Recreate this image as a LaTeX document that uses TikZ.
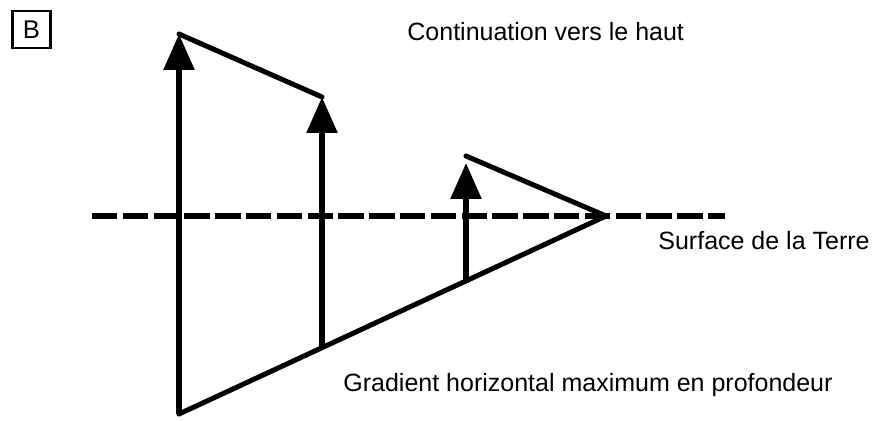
\documentclass[tikz,border=0pt]{standalone}
\usepackage{fontspec}
\setmainfont{Liberation Sans}
\usepackage{tikz}
\usetikzlibrary{calc,arrows.meta,positioning}
\definecolor{inkBlack}{RGB}{0,0,0}

\begin{document}
\begin{tikzpicture}[x=0.5pt, y=-0.5pt,
    arrowline/.style={inkBlack, line width=2.8pt, -{Triangle[length=18pt,width=15pt]}},
    edgeline/.style={inkBlack, line width=2.5pt, line cap=round},
    label/.style={inkBlack, inner sep=0pt, anchor=base west, font=\fontsize{12.5}{14}\selectfont}]
\useasboundingbox (0,0) rectangle (878,421);

% vertical arrows and their ends
\coordinate (a1b) at (179,414);
\coordinate (a1t) at (179,34);
\coordinate (a2b) at (322,346);
\coordinate (a2t) at (322,97);
\coordinate (a3b) at (466,283);
\coordinate (a3t) at (466,163);
\coordinate (l3s) at (466,156);
\coordinate (apex) at (606,216);
\coordinate (dl) at (92,216);
\coordinate (dr) at (725,216);

% surface de la terre
\draw[inkBlack, line width=3pt, dash pattern=on 12.7pt off 2.7pt] (dl) -- (dr);

\draw[edgeline] (a1t) -- (a2t);
\draw[edgeline] (l3s) -- (apex);
\draw[edgeline, line join=round] (a1b) -- (apex);

\foreach \b/\t in {a1b/a1t, a2b/a2t, a3b/a3t}
{
    \draw[arrowline] (\b) -- (\t);
}

\node[draw=inkBlack, line width=1.4pt, minimum width=19pt, minimum height=18.5pt, inner sep=0pt,
      font=\fontsize{12.8}{14}\selectfont] (tag) at (31.5,29.5) {B};
\node[label] (up) at (407,41) {Continuation vers le haut};
\node[label] (surf) at (658,250) {Surface de la Terre};
\node[label] (grad) at (343,392) {Gradient horizontal maximum en profondeur};
\end{tikzpicture}
\end{document}
